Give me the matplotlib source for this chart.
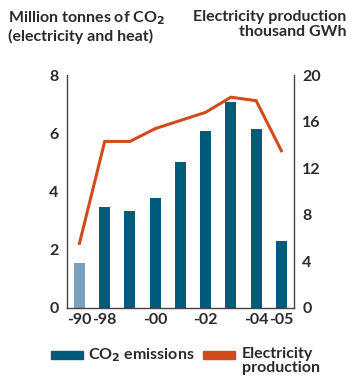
import matplotlib
matplotlib.use("Agg")
import matplotlib.pyplot as plt
from matplotlib.patches import Rectangle
from matplotlib import font_manager

years = ["-90", "-98", "-99", "-00", "-01", "-02", "-03", "-04", "-05"]
tick_labels = ["-90", "-98", "", "-00", "", "-02", "", "-04", "-05"]
co2 = [1.56, 3.48, 3.33, 3.79, 5.02, 6.09, 7.08, 6.15, 2.30]
electricity = [5.55, 14.3, 14.3, 15.4, 16.1, 16.8, 18.1, 17.8, 13.5]

plt.rcParams["font.family"] = ["Lato", "DejaVu Sans"]
plt.rcParams["font.weight"] = "bold"
txt = "#2b2b2b"
teal = "#005a7a"
light = "#7aa0bb"
orange = "#d04a1a"

names = {f.name for f in font_manager.fontManager.ttflist}
tick_family = "Liberation Sans Narrow" if "Liberation Sans Narrow" in names else "Lato"
tick_size = 12.5 if tick_family != "Lato" else 11.5

fig = plt.figure(figsize=(3.5, 3.83), dpi=100)
ax = fig.add_axes([0.191, 0.196, 0.649, 0.608])
ax2 = ax.twinx()

x = list(range(len(years)))
colors = [light] + [teal] * (len(years) - 1)
ax.bar(x, co2, width=0.44, color=colors)
ax2.plot(x, electricity, color=orange, linewidth=2.2, solid_joinstyle="miter")

ax.set_xlim(-0.5, len(years) - 0.5)
ax.set_ylim(0, 8)
ax2.set_ylim(0, 20)
ax.set_yticks([0, 2, 4, 6, 8])
ax2.set_yticks([0, 4, 8, 12, 16, 20])
ax.set_xticks(x)
ax.set_xticklabels(tick_labels)

for a in (ax, ax2):
    a.spines["top"].set_visible(False)
    for s in ("left", "right", "bottom"):
        a.spines[s].set_color("#444444")
        a.spines[s].set_linewidth(1.0)
    a.tick_params(length=0, labelsize=tick_size, colors=txt, pad=6)
    for lab in a.get_xticklabels() + a.get_yticklabels():
        lab.set_family(tick_family)
        lab.set_weight("bold")
ax.spines["right"].set_visible(False)
ax2.spines["left"].set_visible(False)
ax2.spines["bottom"].set_visible(False)
ax.tick_params(axis="x", pad=4)

fig.text(0.023, 0.975, "Million tonnes of CO$_\\mathbf{2}$\n(electricity and heat)",
         ha="left", va="top", fontsize=11.5, color=txt, linespacing=1.1)
fig.text(0.99, 0.975, "Electricity production\nthousand GWh",
         ha="right", va="top", fontsize=11.5, color=txt, linespacing=1.1,
         multialignment="right")

# legend drawn by hand
W, H = 350.0, 383.0
fig.patches.append(Rectangle((51 / W, 1 - 359 / H), 32 / W, 8 / H, color=teal,
                             transform=fig.transFigure, figure=fig))
fig.text(88 / W, 1 - 355 / H, "CO$_\\mathbf{2}$ emissions", ha="left", va="center",
         fontsize=11.5, color=txt)
fig.patches.append(Rectangle((203 / W, 1 - 359 / H), 32 / W, 8 / H, color=orange,
                             transform=fig.transFigure, figure=fig))
fig.text(242 / W, 1 - 347 / H, "Electricity\nproduction", ha="left", va="top",
         fontsize=11.5, color=txt, linespacing=1.0)

fig.savefig("out.png", dpi=100)
